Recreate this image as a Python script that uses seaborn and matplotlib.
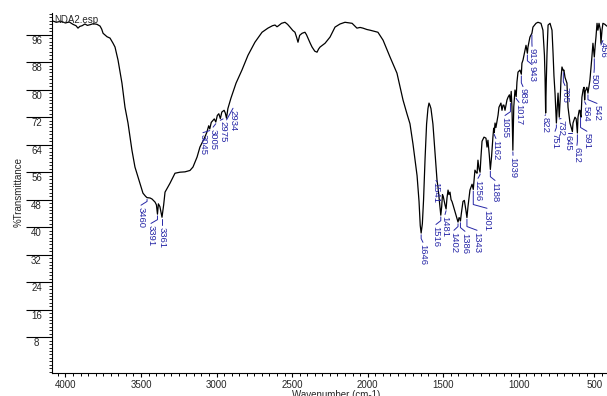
import numpy as np
import matplotlib
matplotlib.use("Agg")
import matplotlib.pyplot as plt
from matplotlib.ticker import MultipleLocator
import seaborn as sns

# spectrum (wavenumber cm-1, %T)
wavenumber = [
    4085, 4060, 4030, 4000, 3975, 3950, 3930, 3917, 3905, 3890,
    3871, 3855, 3837, 3815, 3791, 3771, 3760, 3751, 3738, 3725,
    3705, 3685, 3672, 3652, 3626, 3606, 3586, 3560, 3540, 3507,
    3487, 3470, 3460, 3440, 3427, 3407, 3398, 3391, 3385, 3375,
    3361, 3350, 3341, 3308, 3275, 3242, 3209, 3176, 3156, 3129,
    3110, 3085, 3065, 3052, 3045, 3035, 3015, 3005, 2995, 2985,
    2975, 2965, 2950, 2942, 2934, 2925, 2905, 2871, 2832, 2792,
    2746, 2699, 2660, 2630, 2613, 2600, 2593, 2570, 2547, 2530,
    2514, 2495, 2481, 2470, 2461, 2450, 2434, 2415, 2405, 2395,
    2380, 2368, 2350, 2335, 2325, 2315, 2282, 2249, 2216, 2183,
    2150, 2103, 2071, 2050, 2031, 2005, 1984, 1950, 1932, 1898,
    1852, 1806, 1766, 1740, 1720, 1700, 1673, 1660, 1652, 1646,
    1638, 1630, 1620, 1610, 1601, 1594, 1588, 1581, 1568, 1554,
    1545, 1541, 1534, 1521, 1516, 1510, 1505, 1500, 1493, 1488,
    1481, 1475, 1468, 1462, 1455, 1448, 1442, 1435, 1422, 1409,
    1402, 1395, 1389, 1386, 1380, 1369, 1360, 1350, 1343, 1336,
    1323, 1309, 1301, 1295, 1290, 1283, 1276, 1270, 1263, 1256,
    1250, 1243, 1230, 1217, 1210, 1204, 1195, 1188, 1180, 1171,
    1166, 1162, 1157, 1151, 1137, 1131, 1118, 1111, 1104, 1098,
    1091, 1078, 1071, 1062, 1055, 1050, 1045, 1039, 1033, 1025,
    1017, 1012, 1005, 992, 983, 979, 972, 959, 952, 943,
    939, 926, 913, 906, 886, 873, 853, 840, 830, 826,
    822, 818, 813, 806, 793, 780, 773, 767, 760, 751,
    745, 740, 732, 725, 720, 714, 705, 701, 694, 681,
    674, 661, 648, 645, 641, 628, 620, 612, 608, 600,
    595, 591, 588, 582, 574, 568, 564, 560, 549, 542,
    535, 529, 516, 509, 500, 494, 489, 482, 476, 469,
    460, 456, 449, 443, 430, 418,
]
transmittance = [
    100.0, 99.6, 99.9, 99.4, 99.7, 99.0, 98.6, 97.9, 98.4, 98.6,
    99.1, 98.7, 98.9, 99.2, 99.0, 98.5, 97.6, 96.4, 95.9, 95.4,
    95.0, 93.5, 92.4, 88.6, 81.9, 74.9, 70.3, 62.4, 57.5, 52.8,
    49.9, 49.0, 48.6, 48.5, 48.2, 47.3, 46.5, 43.8, 46.8, 46.0,
    42.9, 46.5, 50.2, 52.8, 55.7, 56.0, 56.1, 56.5, 57.5, 60.4,
    63.3, 65.5, 67.5, 69.5, 68.6, 70.5, 71.5, 70.6, 72.5, 73.0,
    71.6, 73.5, 74.0, 73.2, 71.7, 74.5, 77.5, 81.9, 85.7, 90.0,
    93.8, 96.7, 97.9, 98.6, 98.8, 98.3, 98.5, 99.3, 99.6, 99.0,
    98.2, 97.2, 96.7, 95.2, 93.8, 95.8, 96.4, 96.7, 96.0, 95.0,
    93.5, 92.4, 91.2, 90.9, 91.8, 92.4, 93.5, 95.3, 98.2, 99.1,
    99.6, 99.3, 97.9, 98.1, 97.9, 97.5, 97.3, 96.9, 96.7, 94.4,
    89.5, 84.8, 77.0, 73.0, 70.1, 64.2, 55.0, 47.5, 40.5, 38.3,
    41.0, 48.0, 60.0, 70.0, 74.5, 76.1, 75.5, 74.5, 70.0, 61.5,
    56.0, 53.7, 51.5, 45.5, 43.5, 46.0, 49.5, 49.0, 47.5, 46.5,
    45.3, 48.5, 50.8, 49.5, 50.2, 48.0, 47.5, 46.5, 44.5, 42.5,
    41.5, 42.8, 42.5, 41.8, 44.0, 47.5, 47.8, 45.0, 42.8, 46.0,
    50.8, 52.5, 51.0, 54.0, 56.6, 56.0, 55.7, 59.5, 57.0, 56.0,
    60.5, 65.0, 66.2, 65.9, 63.3, 65.3, 61.0, 56.8, 60.5, 66.2,
    68.8, 67.5, 70.3, 69.0, 72.6, 74.9, 76.1, 74.0, 75.5, 75.5,
    74.0, 77.0, 77.8, 78.5, 76.5, 79.5, 75.0, 62.4, 75.0, 79.9,
    78.0, 82.2, 85.1, 85.7, 84.5, 87.7, 88.6, 91.5, 92.9, 90.6,
    92.4, 95.3, 96.4, 98.2, 99.3, 99.6, 99.3, 97.3, 90.0, 83.6,
    73.2, 82.0, 90.6, 98.8, 99.3, 97.3, 90.6, 84.0, 79.0, 70.3,
    75.0, 79.0, 72.0, 78.0, 83.6, 86.6, 85.5, 85.7, 83.6, 81.9,
    74.9, 70.3, 68.2, 67.8, 70.3, 72.0, 71.5, 67.4, 72.0, 74.0,
    74.0, 72.5, 72.0, 77.8, 80.0, 80.7, 77.0, 79.5, 80.7, 79.0,
    81.0, 82.8, 89.5, 93.5, 89.5, 93.0, 95.3, 99.3, 97.3, 99.3,
    97.5, 93.5, 97.3, 99.3, 99.0, 98.5,
]

# peak picks: peak position, where the label text sits (x) and its top (y)
peaks = [3460, 3391, 3361, 3045, 3005, 2975, 2934, 1646, 1541, 1516,
         1481, 1402, 1386, 1343, 1301, 1256, 1188, 1162, 1055, 1039,
         1017, 983, 943, 913, 822, 751, 732, 705, 645, 612,
         591, 564, 542, 500, 456]
label_x = [3500, 3434, 3361, 3090, 3023, 2957, 2891, 1634, 1548, 1548,
           1488, 1429, 1356, 1276, 1210, 1270, 1157, 1151, 1091, 1038,
           998, 972, 912, 912, 826, 760, 720, 694, 674, 615,
           549, 555, 482, 502, 443]
label_top = [45.9, 40.6, 40.0, 67.0, 68.6, 71.0, 74.1, 35.1, 53.1, 40.3,
             43.2, 38.6, 38.3, 38.6, 45.0, 53.7, 53.1, 65.3, 72.0, 60.4,
             75.8, 80.4, 86.8, 92.1, 72.0, 67.4, 71.1, 80.7, 66.8, 63.3,
             67.4, 75.2, 75.5, 84.5, 93.8]

xticks = [4000, 3500, 3000, 2500, 2000, 1500, 1000, 500]
yticks = [8, 16, 24, 32, 40, 48, 56, 64, 72, 80, 88, 96]

sns.set_style("ticks")
plt.rcParams["font.family"] = ["Liberation Sans", "DejaVu Sans"]

fig = plt.figure(figsize=(6.07, 3.96), dpi=100)
ax = fig.add_axes([52 / 607, 23 / 396, 555 / 607, 360 / 396])

sns.lineplot(x=wavenumber, y=transmittance, color="black", linewidth=0.9,
             sort=False, estimator=None, ax=ax)

ax.set_xlim(4089, 416)
ax.set_ylim(-2.4, 102.3)
sns.despine(ax=ax)
for s in ["left", "bottom"]:
    ax.spines[s].set_linewidth(0.8)
    ax.spines[s].set_color("black")

# x axis
ax.set_xticks(xticks, labels=[str(v) for v in xticks])
ax.xaxis.set_minor_locator(MultipleLocator(50))
ax.tick_params(axis="x", which="major", length=3.2, width=0.8, pad=1.5,
               labelsize=7, color="black")
ax.tick_params(axis="x", which="minor", length=2.0, width=0.7, color="black")
ax.set_xlabel("Wavenumber (cm-1)", fontsize=7)
ax.xaxis.set_label_coords(0.512, -0.047)

# y axis: long major ticks, label sits under the tick line
ax.set_yticks(yticks, labels=[])
ax.yaxis.set_minor_locator(MultipleLocator(1))
ax.tick_params(axis="y", which="major", length=18.7, width=0.8, color="black")
ax.tick_params(axis="y", which="minor", length=2.0, width=0.6, color="black")
for v in yticks:
    ax.text(-0.0279, v - 0.3, str(v), transform=ax.get_yaxis_transform(),
            ha="center", va="top", fontsize=7)
ax.set_ylabel("%Transmittance", fontsize=7)
ax.yaxis.set_label_coords(-0.0505, 0.503)

ax.text(0.0036, 0.994, "NDA2.esp", transform=ax.transAxes,
        ha="left", va="top", fontsize=7)

# peak labels
blue = "#2626a6"
for p, lx, lt in zip(peaks, label_x, label_top):
    tp = np.interp(p, wavenumber[::-1], transmittance[::-1])
    start = tp - 0.5
    mid = min(start, lt + 1.6)
    ax.plot([p, p, lx], [start, mid, lt + 0.5], color=blue, linewidth=0.7)
    ax.text(lx, lt, str(p), rotation=270, ha="center", va="top",
            fontsize=6.8, color=blue)

fig.savefig("out.png", dpi=100)
